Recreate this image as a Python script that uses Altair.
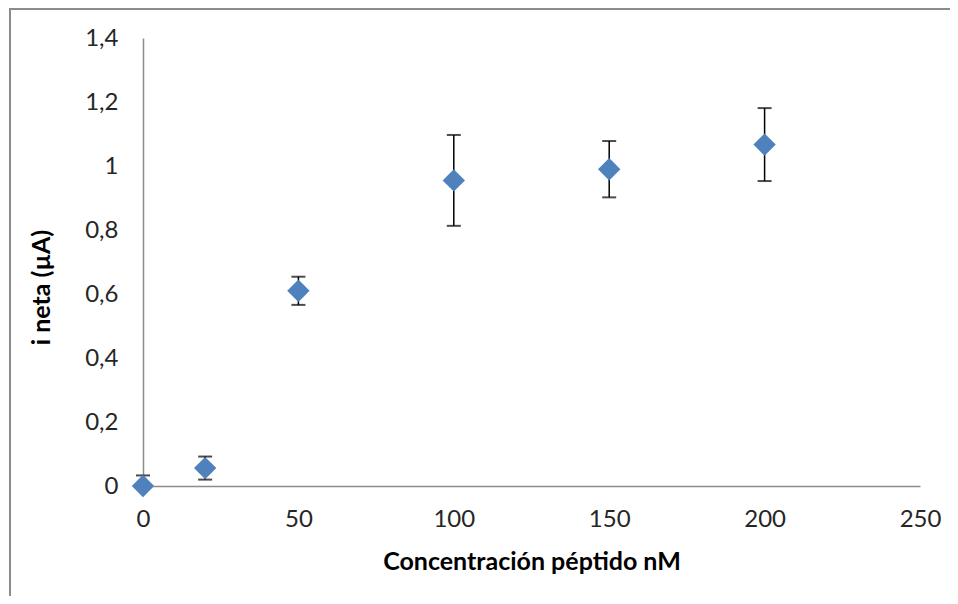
import altair as alt
import pandas as pd

conc = [0, 20, 50, 100, 150, 200]
i_neta = [0.0, 0.056, 0.61, 0.955, 0.99, 1.067]
err = [0.033, 0.036, 0.044, 0.142, 0.088, 0.114]

df = pd.DataFrame({"conc": conc, "y": i_neta, "err": err})
df["lo"] = df["y"] - df["err"]
df["hi"] = df["y"] + df["err"]

W, H = 777, 448
FONT = "Lato"

xs = alt.Scale(domain=[0, 250], nice=False, zero=True)
ys = alt.Scale(domain=[0, 1.4], nice=False)

xaxis = alt.Axis(values=[0, 50, 100, 150, 200, 250], ticks=False, grid=False,
                 domainColor="#8c8c8c", domainWidth=1.5, labelPadding=21, labelFlush=False,
                 labelFontSize=24, labelFont=FONT, labelColor="#262626",
                 title="Concentración péptido nM", titleFont=FONT, titleFontSize=25,
                 titleFontWeight="bold", titleColor="#000000", titlePadding=18)
yaxis = alt.Axis(values=[0, 0.2, 0.4, 0.6, 0.8, 1.0, 1.2, 1.4], ticks=False, grid=False,
                 domainColor="#8c8c8c", domainWidth=1.5, labelPadding=25, labelFlush=False,
                 labelExpr="replace(format(datum.value, '.1~f'), '.', ',')",
                 labelFontSize=24, labelFont=FONT, labelColor="#262626",
                 title="i neta (µA)", titleFont=FONT, titleFontSize=25,
                 titleFontWeight="bold", titleColor="#000000", titlePadding=30,
                 titleY=H / 2 + 25)

base = alt.Chart(df)

rules = base.mark_rule(color="#000000", strokeWidth=1.5, clip=True).encode(
    x=alt.X("conc:Q", scale=xs, axis=xaxis),
    y=alt.Y("lo:Q", scale=ys, axis=yaxis),
    y2="hi:Q",
)
cap_lo = base.mark_tick(color="#000000", size=14, thickness=2, orient="horizontal", clip=True).encode(
    x=alt.X("conc:Q", scale=xs), y=alt.Y("lo:Q", scale=ys)
)
cap_hi = base.mark_tick(color="#000000", size=14, thickness=2, orient="horizontal").encode(
    x=alt.X("conc:Q", scale=xs), y=alt.Y("hi:Q", scale=ys)
)
points = base.mark_point(shape="diamond", filled=True, size=500, color="#4F81BD", opacity=1).encode(
    x=alt.X("conc:Q", scale=xs), y=alt.Y("y:Q", scale=ys)
)

one = pd.DataFrame({"a": [0]})
border_top = alt.Chart(one).mark_rule(color="#8c8c8c", strokeWidth=2).encode(
    x=alt.value(-133), x2=alt.value(W + 30), y=alt.value(-29)
)
border_left = alt.Chart(one).mark_rule(color="#8c8c8c", strokeWidth=2).encode(
    x=alt.value(-133), y=alt.value(-30), y2=alt.value(H + 110)
)

chart = alt.layer(border_top, border_left, rules, cap_lo, cap_hi, points).properties(
    width=W, height=H,
    padding={"left": 135, "top": 30, "right": 30, "bottom": 110},
    autosize=alt.AutoSizeParams(type="none"),
    background="#ffffff",
).configure_view(strokeWidth=0, stroke="transparent")

chart.save("out.html", embed_options={"renderer": "svg", "actions": False})
